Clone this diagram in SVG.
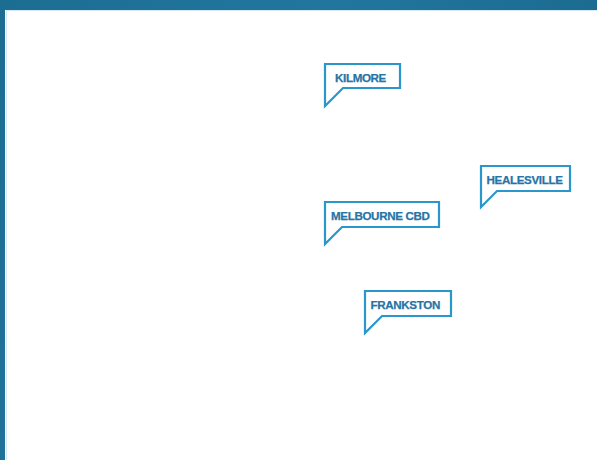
<svg xmlns="http://www.w3.org/2000/svg" width="597" height="460" viewBox="0 0 597 460">
<defs>
<linearGradient id="bg" x1="0" y1="0" x2="1" y2="0.3">
<stop offset="0" stop-color="#1c6d92"/>
<stop offset="0.5" stop-color="#22769e"/>
<stop offset="1" stop-color="#1b6a8f"/>
</linearGradient>
<style>
.bubble{fill:#ffffff;stroke:#2a96cc;stroke-width:2.2;stroke-linejoin:miter}
.lbl{font-family:"Liberation Sans",Arial,sans-serif;font-weight:bold;font-size:11.6px;fill:#2674a6;letter-spacing:-0.35px;stroke:#2674a6;stroke-width:0.25px}
</style>
</defs>
<rect x="0" y="0" width="597" height="460" fill="url(#bg)"/>
<rect x="5" y="10" width="592" height="450" fill="#ffffff"/>
<line x1="6.5" y1="11" x2="6.5" y2="460" stroke="#d6e8f1" stroke-width="1"/>
<line x1="6" y1="10.5" x2="597" y2="10.5" stroke="#d6e8f1" stroke-width="1"/>
<g id="kilmore">
<path class="bubble" d="M325,64 H400 V88 H343 L325,106 Z"/>
<text class="lbl" x="335" y="81.7">KILMORE</text>
</g>
<g id="healesville">
<path class="bubble" d="M481,166 H570 V191 H497 L481,207 Z"/>
<text class="lbl" x="486.5" y="184">HEALESVILLE</text>
</g>
<g id="melbourne-cbd">
<path class="bubble" d="M325,202 H439 V227 H342 L325,244 Z"/>
<text class="lbl" x="331" y="219.5">MELBOURNE CBD</text>
</g>
<g id="frankston">
<path class="bubble" d="M365,291 H451 V316 H382 L365,333 Z"/>
<text class="lbl" x="370.5" y="308.5">FRANKSTON</text>
</g>
</svg>
